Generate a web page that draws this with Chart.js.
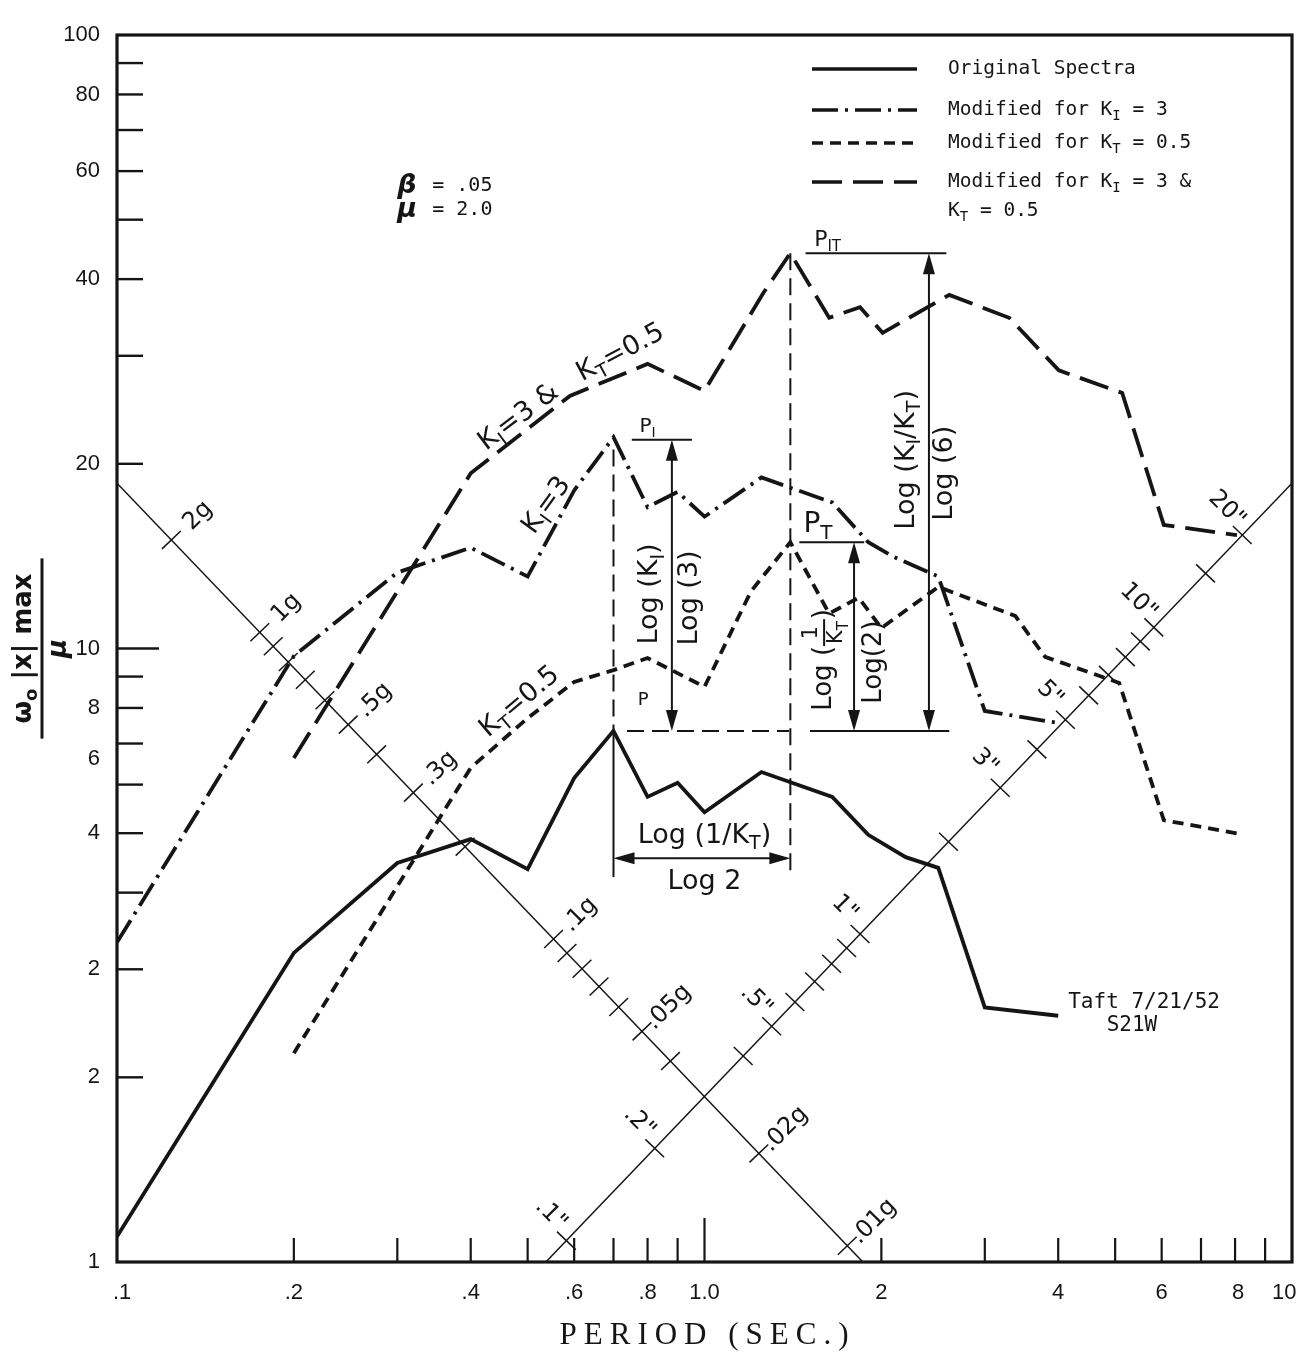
<!DOCTYPE html>
<html lang="en">
<head>
<meta charset="UTF-8">
<title>Modified spectra - Taft 7/21/52 S21W</title>
<script src="https://cdn.jsdelivr.net/npm/chart.js@4.4.1/dist/chart.umd.min.js"></script>
<style>
  html, body { margin: 0; padding: 0; background: #fff; }
  #wrap { width: 1301px; height: 1358px; }
</style>
</head>
<body>
<div id="wrap"><canvas id="chart" width="1301" height="1358"></canvas></div>
<script>
// spectra (period in sec, spectral value)
const periodOrig = [0.1, 0.2, 0.3, 0.4, 0.5, 0.6, 0.7, 0.8, 0.9, 1.0, 1.25, 1.65, 1.9, 2.2, 2.5, 3.0, 4.0];
const specOrig   = [1.10, 3.19, 4.47, 4.89, 4.37, 6.15, 7.34, 5.73, 6.04, 5.41, 6.29, 5.73, 4.97, 4.57, 4.39, 2.60, 2.52];

const periodKI = [0.1, 0.2, 0.3, 0.4, 0.5, 0.6, 0.7, 0.8, 0.9, 1.0, 1.25, 1.65, 1.9, 2.1, 2.5, 3.0, 4.0];
const specKI   = [3.32, 9.72, 13.3, 14.6, 13.1, 18.1, 22.1, 17.0, 18.0, 16.4, 19.0, 17.3, 14.9, 14.1, 13.1, 7.91, 7.56];

const periodKT = [0.2, 0.4, 0.5, 0.6, 0.7, 0.8, 1.0, 1.2, 1.4, 1.63, 1.83, 2.0, 2.5, 3.38, 3.8, 5.08, 6.05, 8.12];
const specKT   = [2.19, 6.39, 7.70, 8.82, 9.22, 9.65, 8.66, 12.4, 14.9, 11.4, 12.1, 10.8, 12.6, 11.3, 9.69, 8.79, 5.25, 4.99];

const periodKIT = [0.2, 0.4, 0.59, 0.8, 1.0, 1.26, 1.4, 1.63, 1.84, 2.01, 2.61, 3.3, 4.01, 5.14, 6.05, 8.06];
const specKIT   = [6.63, 19.3, 25.8, 29.1, 26.3, 38.0, 44.1, 34.6, 36.0, 32.7, 37.7, 34.6, 28.4, 26.1, 15.9, 15.3];

// tripartite guide lines (end points on the frame)
const accelLinePeriods = [0.1, 1.86];
const accelLineValues  = [18.6, 1.0];
const dispLinePeriods  = [0.537, 10];
const dispLineValues   = [1.0, 18.6];

// marks along the guide lines
const accelTicks  = [2, 1, 0.9, 0.8, 0.7, 0.6, 0.5, 0.4, 0.3, 0.2, 0.1, 0.09, 0.08, 0.07, 0.06, 0.05, 0.04, 0.02, 0.01];
const accelLabels = {2: '2g', 1: '1g', 0.5: '.5g', 0.3: '.3g', 0.1: '.1g', 0.05: '.05g', 0.02: '.02g', 0.01: '.01g'};
const accelT1g    = 0.175;   // period of the 1g mark
const dispTicks   = [0.1, 0.2, 0.4, 0.5, 0.6, 0.7, 0.8, 0.9, 1, 2, 3, 4, 5, 6, 7, 8, 9, 10, 15, 20];
const dispLabels  = {0.1: '.1"', 0.2: '.2"', 0.5: '.5"', 1: '1"', 3: '3"', 5: '5"', 10: '10"', 20: '20"'};
const dispT1in    = 1.84;    // period of the 1" mark

// peaks used by the construction lines
const periodP = 0.7, periodPT = 1.4;
const peakP = 7.34, peakPI = 21.9, peakPT = 14.9, peakPIT = 44.1;

// axis ticks (labels as printed on the original sheet)
const xTickValues = [0.102, 0.2, 0.4, 0.6, 0.8, 1.0, 2, 4, 6, 8.1, 9.7];
const xTickLabels = ['.1', '.2', '.4', '.6', '.8', '1.0', '2', '4', '6', '8', '10'];
const yTickValues = [1, 2, 3, 5, 6.6, 8, 10, 20, 40, 60, 80, 100];
const yTickLabels = ['1', '2', '2', '4', '6', '8', '10', '20', '40', '60', '80', '100'];
const xMarks = [0.2, 0.3, 0.4, 0.5, 0.6, 0.7, 0.8, 0.9, 1, 2, 3, 4, 5, 6, 7, 8, 9];
const yMarks = [2, 3, 4, 5, 6, 7, 8, 9, 10, 20, 30, 40, 50, 60, 70, 80, 90];

const ink = '#151515';
const LETTER = '"DejaVu Sans", sans-serif';
const MONO = '"DejaVu Sans Mono", monospace';

const pts = (xs, ys) => xs.map((v, i) => ({x: v, y: ys[i]}));

const curves = [
  {label: 'Original Spectra', data: pts(periodOrig, specOrig), borderDash: [], borderWidth: 3.8},
  {label: 'Modified for K_I = 3', data: pts(periodKI, specKI), borderDash: [26, 7, 3, 7], borderWidth: 3.8},
  {label: 'Modified for K_T = 0.5', data: pts(periodKT, specKT), borderDash: [11, 7], borderWidth: 3.8},
  {label: 'Modified for K_I = 3 & K_T = 0.5', data: pts(periodKIT, specKIT), borderDash: [30, 11], borderWidth: 3.8},
  {label: 'accel', data: pts(accelLinePeriods, accelLineValues), borderDash: [], borderWidth: 1.5},
  {label: 'disp', data: pts(dispLinePeriods, dispLineValues), borderDash: [], borderWidth: 1.5}
];
curves.forEach(d => Object.assign(d, {showLine: true, pointRadius: 0, borderColor: ink, fill: false, tension: 0}));

// ---------- text helpers (subscripts / fractions) ----------
function fnt(size, fam, weight) { return (weight || 'normal') + ' ' + size + 'px ' + fam; }

function measure(ctx, parts, size, fam, weight) {
  let w = 0;
  for (const p of parts) {
    if (typeof p === 'string') { ctx.font = fnt(size, fam, weight); w += ctx.measureText(p).width; }
    else if (p.sub) { ctx.font = fnt(Math.round(size * 0.7), fam, weight); w += ctx.measureText(p.sub).width; }
    else if (p.frac) {
      const fs = p.fs || size * 0.8;
      w += Math.max(measure(ctx, p.frac[0], fs, fam, weight), measure(ctx, p.frac[1], fs, fam, weight)) + (p.pad || 4);
    }
  }
  return w;
}

function paint(ctx, parts, x0, size, fam, weight) {
  let cx = x0;
  for (const p of parts) {
    if (typeof p === 'string') {
      ctx.font = fnt(size, fam, weight);
      ctx.fillText(p, cx, 0);
      cx += ctx.measureText(p).width;
    } else if (p.sub) {
      ctx.font = fnt(Math.round(size * 0.7), fam, weight);
      ctx.fillText(p.sub, cx, size * 0.32);
      cx += ctx.measureText(p.sub).width;
    } else if (p.frac) {
      const fs = p.fs || size * 0.8;
      const wn = measure(ctx, p.frac[0], fs, fam, weight), wd = measure(ctx, p.frac[1], fs, fam, weight);
      const w = Math.max(wn, wd) + (p.pad || 4);
      ctx.save(); ctx.translate(0, -fs * (p.gap || 0.6)); paint(ctx, p.frac[0], cx + (w - wn) / 2, fs, fam, weight); ctx.restore();
      ctx.save(); ctx.translate(0, fs * (p.gap || 0.6)); paint(ctx, p.frac[1], cx + (w - wd) / 2, fs, p.denFam || fam, p.denWeight || weight); ctx.restore();
      ctx.fillRect(cx, -(p.bar || 2) / 2, w, p.bar || 2);
      cx += w;
    }
  }
}

function label(ctx, parts, x, y, size, o = {}) {
  const fam = o.fam || LETTER;
  ctx.save();
  ctx.translate(x, y);
  ctx.rotate((o.angle || 0) * Math.PI / 180);
  ctx.fillStyle = ink;
  ctx.textBaseline = 'middle';
  ctx.textAlign = 'left';
  const w = measure(ctx, parts, size, fam, o.weight);
  const x0 = o.align === 'left' ? 0 : o.align === 'right' ? -w : -w / 2;
  paint(ctx, parts, x0, size, fam, o.weight);
  ctx.restore();
}

function arrowHead(ctx, x, y, dx, dy) {
  const len = 21, half = 6;
  ctx.beginPath();
  ctx.moveTo(x, y);
  ctx.lineTo(x - dx * len - dy * half, y - dy * len + dx * half);
  ctx.lineTo(x - dx * len + dy * half, y - dy * len - dx * half);
  ctx.closePath();
  ctx.fill();
}

// ---------- everything the library does not draw by itself ----------
const sheet = {
  id: 'sheet',
  afterDatasetsDraw(chart) {
    const {ctx, chartArea: a, scales} = chart;
    const X = v => scales.x.getPixelForValue(v);
    const Y = v => scales.y.getPixelForValue(v);
    ctx.save();
    ctx.strokeStyle = ink;
    ctx.fillStyle = ink;
    ctx.lineCap = 'butt';

    const seg = (x1, y1, x2, y2, w, dash) => {
      ctx.lineWidth = w;
      ctx.setLineDash(dash || []);
      ctx.beginPath(); ctx.moveTo(x1, y1); ctx.lineTo(x2, y2); ctx.stroke();
      ctx.setLineDash([]);
    };

    // frame and inward axis marks
    ctx.lineWidth = 3.2;
    ctx.strokeRect(a.left, a.top, a.width, a.height);
    yMarks.forEach(v => seg(a.left, Y(v), a.left + (v === 10 ? 42 : 26), Y(v), 2.4));
    xMarks.forEach(v => seg(X(v), a.bottom, X(v), a.bottom - (v === 1 ? 44 : 24), 2.2));

    // marks and labels on the guide lines
    const guide = (per, val, ticks, periodOf, labels, side, offN, offT, angle) => {
      const lx0 = Math.log10(per[0]), lx1 = Math.log10(per[1]);
      const ly0 = Math.log10(val[0]), ly1 = Math.log10(val[1]);
      let dx = X(per[1]) - X(per[0]), dy = Y(val[1]) - Y(val[0]);
      const L = Math.hypot(dx, dy); dx /= L; dy /= L;
      let nx = dy, ny = -dx;            // normal
      if (ny * side > 0) { nx = -nx; ny = -ny; }
      ticks.forEach(t => {
        const T = periodOf(t);
        const v = Math.pow(10, ly0 + (Math.log10(T) - lx0) * (ly1 - ly0) / (lx1 - lx0));
        const px = X(T), py = Y(v);
        seg(px - nx * 13, py - ny * 13, px + nx * 13, py + ny * 13, 1.5);
        if (labels[t]) {
          label(ctx, [labels[t]], px + nx * offN + dx * offT, py + ny * offN + dy * offT, 24, {angle});
        }
      });
    };
    guide(accelLinePeriods, accelLineValues, accelTicks, g => accelT1g / Math.sqrt(g), accelLabels, 1, 36, 1, -45);
    guide(dispLinePeriods, dispLineValues, dispTicks, d => dispT1in * Math.sqrt(d), dispLabels, 1, 29, 8, 45);

    // construction lines for the peaks
    const dash = [17, 8];
    seg(X(periodP), Y(21.1), X(periodP), Y(peakP), 2, dash);
    seg(X(periodP), Y(peakP), X(periodP), Y(4.24), 2);
    seg(X(periodPT), Y(peakPIT), X(periodPT), Y(4.27), 2, dash);
    seg(X(0.738), Y(peakP), X(1.393), Y(peakP), 2, dash);
    seg(X(1.512), Y(peakP), X(2.61), Y(peakP), 2);
    seg(X(0.752), Y(peakPI), X(0.952), Y(peakPI), 2);
    seg(X(1.45), Y(peakPT), X(1.87), Y(peakPT), 2);
    seg(X(1.486), Y(peakPIT), X(2.58), Y(peakPIT), 2);

    const dimV = (xv, top, bot) => {
      const px = X(xv), y1 = Y(top), y2 = Y(bot);
      seg(px, y1 + 4, px, y2 - 4, 2);
      arrowHead(ctx, px, y1, 0, -1);
      arrowHead(ctx, px, y2, 0, 1);
    };
    dimV(0.88, peakPI, peakP);
    dimV(1.797, peakPT, peakP);
    dimV(2.41, peakPIT, peakP);
    const yh = Y(4.55);
    seg(X(periodP) + 4, yh, X(periodPT) - 4, yh, 2);
    arrowHead(ctx, X(periodP), yh, -1, 0);
    arrowHead(ctx, X(periodPT), yh, 1, 0);

    // construction labels
    label(ctx, ['P', {sub: 'I'}], X(0.8), Y(23.0), 20);
    label(ctx, ['P', {sub: 'T'}], X(1.56), Y(15.9), 28);
    label(ctx, ['P', {sub: 'IT'}], X(1.62), Y(46.3), 22);
    label(ctx, ['P'], X(0.786), Y(8.24), 18);
    label(ctx, ['Log (K', {sub: 'I'}, ')'], X(0.808), Y(12.27), 27, {angle: -90});
    label(ctx, ['Log (3)'], X(0.945), Y(12.09), 27, {angle: -90});
    label(ctx, ['Log (', {frac: [['1'], ['K', {sub: 'T'}]], gap: 0.62}, ')'], X(1.598), Y(9.58), 26, {angle: -90});
    label(ctx, ['Log(2)'], X(1.943), Y(9.5), 26, {angle: -90});
    label(ctx, ['Log (K', {sub: 'I'}, '/K', {sub: 'T'}, ')'], X(2.21), Y(20.3), 27, {angle: -90});
    label(ctx, ['Log (6)'], X(2.567), Y(19.3), 27, {angle: -90});
    label(ctx, ['Log (1/K', {sub: 'T'}, ')'], X(1.0), Y(4.95), 27);
    label(ctx, ['Log 2'], X(1.0), Y(4.16), 27);

    // curve labels
    label(ctx, ['K', {sub: 'I'}, '=3 &'], X(0.483), Y(23.8), 27, {angle: -37});
    label(ctx, ['K', {sub: 'T'}, '=0.5'], X(0.72), Y(30.3), 27, {angle: -28});
    label(ctx, ['K', {sub: 'I'}, '=3'], X(0.539), Y(17.1), 27, {angle: -54});
    label(ctx, ['K', {sub: 'T'}, '=0.5'], X(0.485), Y(8.18), 27, {angle: -40});

    // parameters and record name
    label(ctx, ['β'], X(0.30), Y(56.7), 27, {align: 'left', weight: 'bold italic'});
    label(ctx, ['= .05'], X(0.344), Y(56.7), 20, {align: 'left', fam: MONO});
    label(ctx, ['μ'], X(0.30), Y(51.8), 27, {align: 'left', weight: 'bold italic'});
    label(ctx, ['= 2.0'], X(0.344), Y(51.8), 20, {align: 'left', fam: MONO});
    label(ctx, ['Taft 7/21/52'], X(5.6), Y(2.65), 21, {fam: MONO});
    label(ctx, ['S21W'], X(5.34), Y(2.43), 21, {fam: MONO});

    // legend
    const lx = a.right - 480, rows = [34, 75, 108, 147];
    const texts = [
      ['Original Spectra'],
      ['Modified for K', {sub: 'I'}, ' = 3'],
      ['Modified for K', {sub: 'T'}, ' = 0.5'],
      ['Modified for K', {sub: 'I'}, ' = 3 &']
    ];
    rows.forEach((r, i) => {
      const ds = chart.data.datasets[i];
      seg(lx, a.top + r, lx + 105, a.top + r, 3.4, ds.borderDash);
      label(ctx, texts[i], lx + 136, a.top + r, 19.5, {align: 'left', fam: MONO});
    });
    label(ctx, ['K', {sub: 'T'}, ' = 0.5'], lx + 136, a.top + 176, 19.5, {align: 'left', fam: MONO});

    // axis titles
    label(ctx, [{frac: [['ω', {sub: 'o'}, ' |x| max'], ['μ']], fs: 26, gap: 0.68, pad: 30, bar: 3, denWeight: 'bold italic'}],
      a.left - 75, (a.top + a.bottom) / 2, 26, {angle: -90, weight: 'bold'});
    ctx.save();
    ctx.font = '31px "Liberation Serif", serif';
    ctx.letterSpacing = '7px';
    ctx.textAlign = 'center';
    ctx.textBaseline = 'middle';
    ctx.fillText('PERIOD (SEC.)', (a.left + a.right) / 2 + 3, a.bottom + 74);
    ctx.restore();

    ctx.restore();
  }
};

const tickFont = {family: '"Liberation Sans", sans-serif', size: 22};

new Chart(document.getElementById('chart'), {
  type: 'scatter',
  data: {datasets: curves},
  options: {
    responsive: false,
    animation: false,
    layout: {padding: {top: 35, right: 9, left: 0, bottom: 0}},
    plugins: {legend: {display: false}, tooltip: {enabled: false}},
    scales: {
      x: {
        type: 'logarithmic', min: 0.1, max: 10,
        border: {display: false},
        grid: {display: false, drawTicks: false},
        afterBuildTicks: s => { s.ticks = xTickValues.map(v => ({value: v})); },
        afterFit: s => { s.height = 96; s.paddingLeft = 0; s.paddingRight = 0; },
        ticks: {autoSkip: false, maxRotation: 0, padding: 18, color: ink, font: tickFont,
                callback: (v, i) => xTickLabels[i]}
      },
      y: {
        type: 'logarithmic', min: 1, max: 100,
        border: {display: false},
        grid: {display: false, drawTicks: false},
        afterBuildTicks: s => { s.ticks = yTickValues.map(v => ({value: v})); },
        afterFit: s => { s.width = 117; s.paddingTop = 0; s.paddingBottom = 0; },
        ticks: {autoSkip: false, padding: 17, color: ink, font: tickFont,
                callback: (v, i) => yTickLabels[i]}
      }
    }
  },
  plugins: [sheet]
});
</script>
</body>
</html>
